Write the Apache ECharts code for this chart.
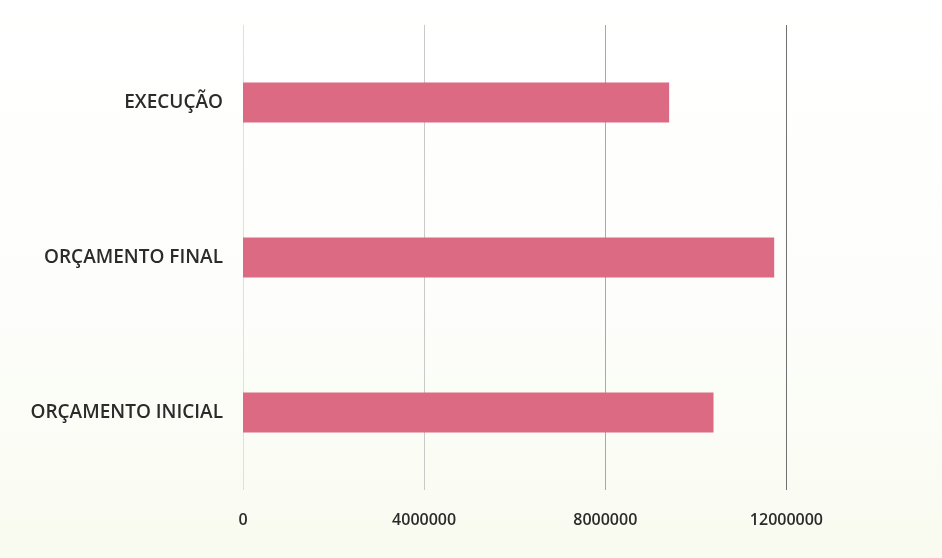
<!DOCTYPE html>
<html>
<head>
<meta charset="utf-8">
<script src="https://cdn.jsdelivr.net/npm/echarts@6/dist/echarts.min.js"></script>
<style>
  html, body { margin: 0; padding: 0; }
  #chart { width: 942px; height: 558px; }
</style>
</head>
<body>
<div id="chart"></div>
<script>
// Budget stages, listed from the bottom of the chart upward
const categories = ['ORÇAMENTO INICIAL', 'ORÇAMENTO FINAL', 'EXECUÇÃO'];
const amounts = [10390000, 11730000, 9410000];
const axisMin = 0;
const axisMax = 14000000;
const axisStep = 4000000;

const chart = echarts.init(document.getElementById('chart'));
chart.setOption({
  backgroundColor: {
    type: 'linear', x: 0, y: 0, x2: 0, y2: 1,
    colorStops: [
      { offset: 0, color: '#ffffff' },
      { offset: 0.55, color: '#fdfefb' },
      { offset: 1, color: '#f9fbf0' }
    ]
  },
  grid: { left: 243, top: 25, width: 634, height: 465, containLabel: false },
  xAxis: {
    type: 'value',
    min: axisMin,
    max: axisMax,
    interval: axisStep,
    axisLine: { show: false },
    axisTick: { show: false },
    axisLabel: {
      margin: 22,
      showMaxLabel: false,
      formatter: v => String(v),
      color: '#2b2b2b',
      fontFamily: 'Open Sans',
      fontWeight: 600,
      fontSize: 16
    },
    splitLine: {
      show: true,
      lineStyle: {
        color: ['#e0e0e0', '#c9c9c9', '#a8a8a8', '#707070', 'rgba(0,0,0,0)'],
        width: 1
      }
    }
  },
  yAxis: {
    type: 'category',
    data: categories,
    axisLine: { show: false },
    axisTick: { show: false },
    axisLabel: {
      margin: 20,
      color: '#2b2b2b',
      fontFamily: 'Open Sans',
      fontWeight: 600,
      fontSize: 19
    }
  },
  series: [{
    type: 'bar',
    data: amounts,
    barWidth: 40,
    itemStyle: { color: '#db6a82' },
    silent: true
  }],
  animation: false
});
</script>
</body>
</html>
